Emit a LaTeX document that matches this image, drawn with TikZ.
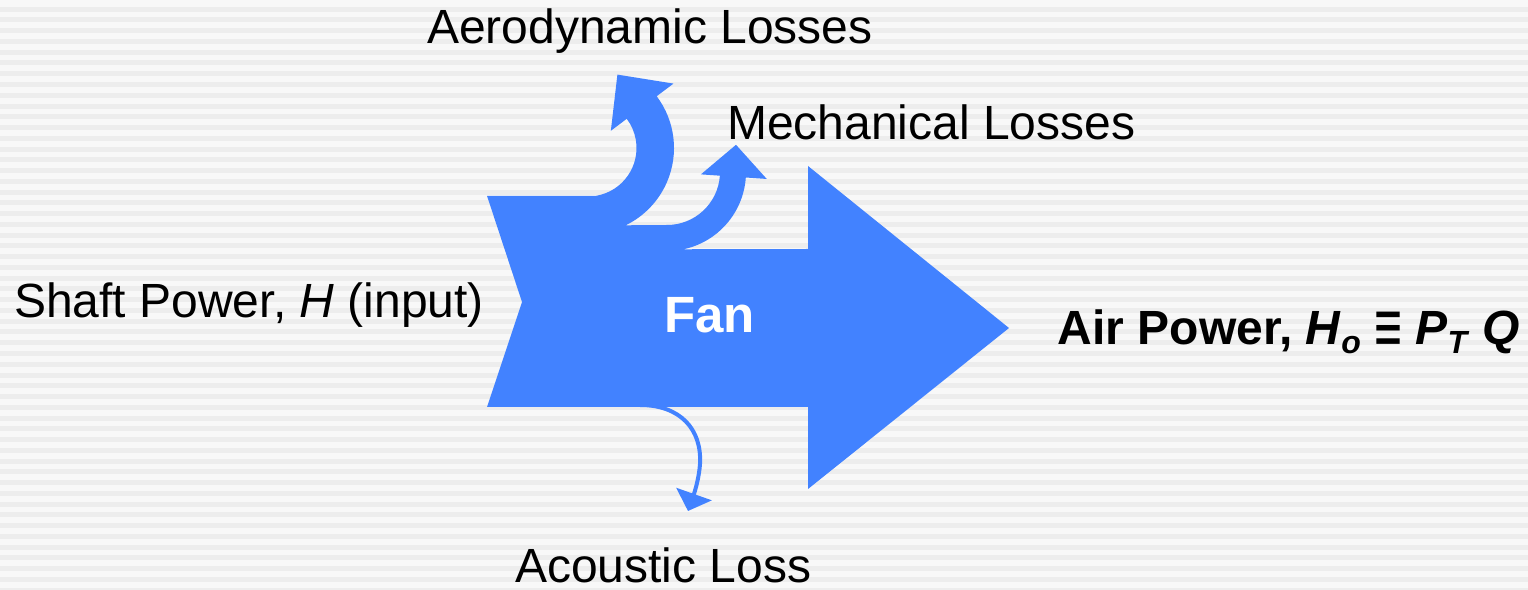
\documentclass[tikz,border=0pt]{standalone}
\usepackage{fontspec}
\usepackage{graphicx}
\setmainfont{Liberation Sans}
\usetikzlibrary{arrows.meta,calc}
\definecolor{fanblue}{RGB}{66,130,255}
\definecolor{paper}{RGB}{248,248,248}
\definecolor{stripe}{RGB}{237,237,237}
% lowered, smaller index letter for the air power formula
\newcommand\lowidx[1]{\raisebox{-9pt}{\fontsize{32}{32}\selectfont #1}}
% tall identity sign
\newcommand\tallequiv{\raisebox{-9pt}{\scalebox{1}[1.6]{≡}}}

\begin{document}
\begin{tikzpicture}[x=1pt,y=1pt,
  lbl/.style={inner sep=0pt, anchor=base west, font=\fontsize{48}{58}\selectfont},
  lossline/.style={line width=4pt, draw=fanblue, -{Triangle[length=18pt,width=37pt]}}]
\useasboundingbox (0,0) rectangle (1528,589);

% striped paper
\fill[paper] (0,0) rectangle (1528,589);
\foreach \k in {0,...,54}
  \fill[stripe] (0,{589-6.7-\k*10.76}) rectangle (1528,{589-11.7-\k*10.76});

% centres of the two curved loss arrows
\coordinate (c1) at (588,441);
\coordinate (c2) at (667,417);

% fan body with the aerodynamic and mechanical loss branches
\fill[fanblue] (487,393.2) -- ($(c1)+(-80:48.5)$)
  arc[start angle=-80,end angle=37,radius=48.5pt]
  -- ($(c1)+(37:28.6)$) -- (617.4,514.4) -- ($(c1)+(37:107)$) -- ($(c1)+(37:86)$)
  arc[start angle=37,end angle=-64,radius=86pt]
  -- (667,364)
  arc[start angle=-90,end angle=-4,radius=53pt]
  -- ($(c2)+(-4:34)$) -- (736,444.2) -- ($(c2)+(-4:100)$) -- ($(c2)+(-4:79)$)
  arc[start angle=-4,end angle=-78,radius=79pt]
  -- (808,340) -- (808,423) -- (1009,261) -- (808,100) -- (808,182)
  -- (487,182) -- (522,287) -- cycle;

% acoustic loss branch
\coordinate (acs) at (640,184);
\coordinate (ace) at (688,78);
\draw[lossline] (acs) .. controls (680,184) and (702,160) .. (700,125)
  .. controls (699,110) and (694,95) .. (ace);

% labels
\node[lbl] (aero) at (427,545) {Aerodynamic Losses};
\node[lbl] (mech) at (727,449) {Mechanical Losses};
\node[lbl] (shaft) at (14,271) {Shaft Power, \textit{H} (input)};
\node[lbl] (acou) at (515,6.5) {Acoustic Loss};
\node[lbl, font=\fontsize{51}{60}\selectfont\bfseries, text=white] (fan) at (664,256.7) {Fan};
\node[lbl, font=\fontsize{48}{58}\selectfont\bfseries] (air) at (1057.5,244)
  {Air Power, \textit{H}\lowidx{\textit{o}} \tallequiv{} \textit{P}\lowidx{\textit{T}} \textit{Q}};
\end{tikzpicture}
\end{document}
